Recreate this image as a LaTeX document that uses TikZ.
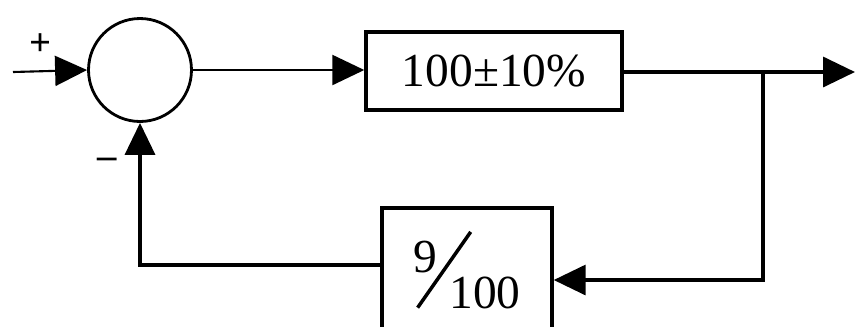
\documentclass[tikz,border=0pt]{standalone}
\usepackage{fontspec}
\setmainfont{Liberation Serif}
\usetikzlibrary{arrows.meta, positioning, calc}

\begin{document}
\begin{tikzpicture}[
    x=0.02cm, y=-0.02cm,
    blk/.style={draw, line width=2pt, minimum width=#1, inner sep=0pt,
                font=\fontsize{27}{30}\selectfont},
    sign/.style={font=\bfseries\fontsize{22}{22}\selectfont},
    arr/.style={-{Triangle[length=0.64cm, width=0.6cm]}},
]
    \useasboundingbox (0,0) rectangle (855,326);

    \node[draw, circle, line width=1.6pt, minimum size=2.06cm] (sum) at (140,70) {};
    \node[blk=5.12cm, minimum height=1.56cm] (plant) at (494,71) {100±10\%};
    \node[blk=3.4cm, minimum height=2.88cm] (fb) at (467,280) {};
    \node[font=\fontsize{27}{30}\selectfont, inner sep=0pt] (fbtxt) at (467,270)
        {\raisebox{20.4pt}{9}\kern-12pt\rotatebox{55}{\rule{1.85cm}{0.07cm}}\kern-13pt 100};

    \node[sign] (plus) at (41,45) {+};
    \node[sign] (minus) at (107,163) {--};

    \coordinate (in) at (13,72);
    \coordinate (out) at (855,72);
    \coordinate (tap) at (763,72);
    \coordinate (back) at (763,280);

    \draw[arr, line width=1.2pt] (in) -- (sum.west);
    \draw[arr, line width=1.4pt] (sum.east) -- (plant.west |- sum.east);
    \draw[arr, line width=2pt] (plant.east |- tap) -- (out);
    \draw[arr, line width=2pt] (tap) -- (back) -- (fb.east);
    \draw[arr, line width=2pt] ([yshift=0.3cm]fb.west) -| (sum.south);
\end{tikzpicture}
\end{document}
